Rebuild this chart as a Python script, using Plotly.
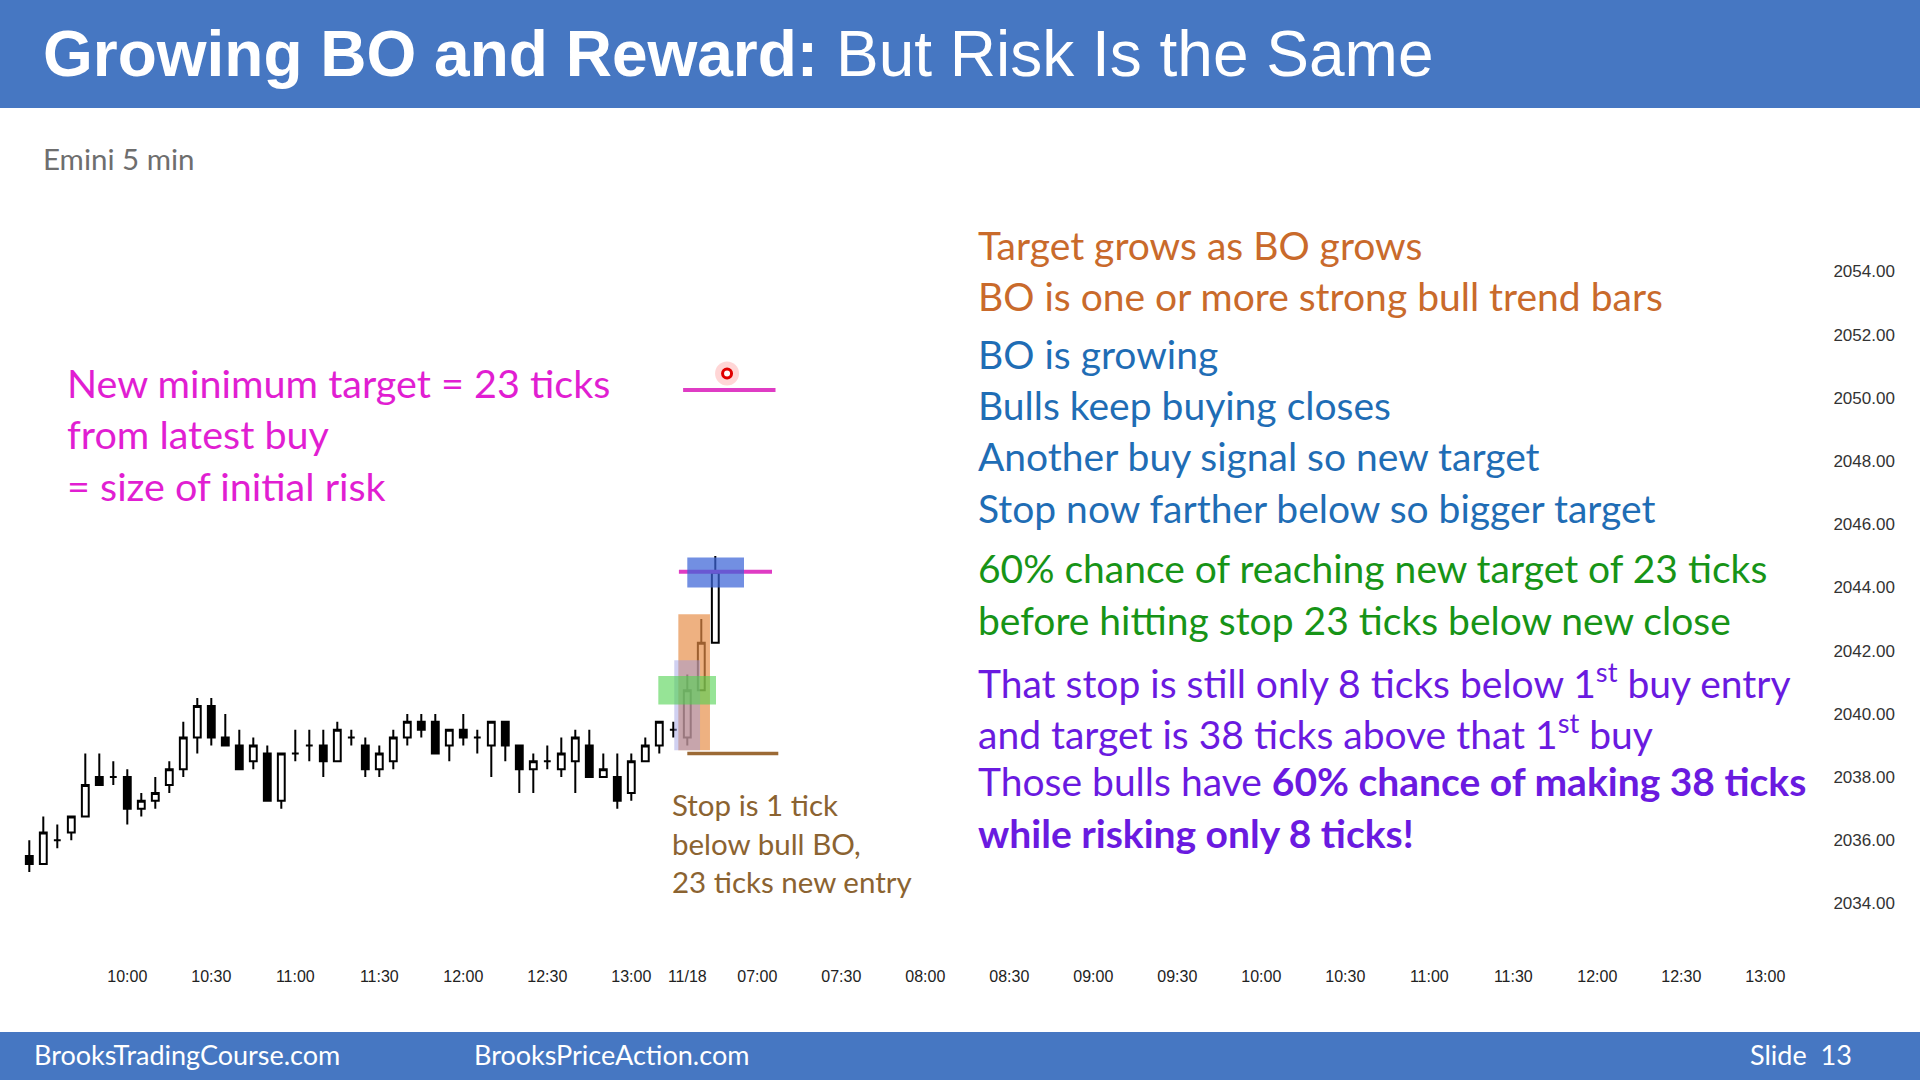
import plotly.graph_objects as go

# ---------------- data ----------------
bar_index = list(range(-7, 43))
open_ = [2035.5, 2035.25, 2036, 2036.25, 2036.75, 2038, 2038, 2038, 2037, 2037.25,
         2037.75, 2038.25, 2039.25, 2040.25, 2039.25, 2039, 2038.5, 2038.75, 2037.25, 2038.75,
         2039, 2039, 2038.5, 2039.25, 2039, 2038.25, 2038.5, 2039.25, 2039.75, 2039.75,
         2039, 2039.5, 2039.25, 2039, 2039.75, 2039, 2038.25, 2038.5, 2038.25, 2038.5,
         2039, 2038, 2038, 2037.5, 2038.5, 2039, 2039.5, 2039.25, 2040.75, 2042.25]
high_ = [2036, 2036.75, 2036.5, 2036.75, 2038.75, 2038.75, 2038.5, 2038.25, 2037.5, 2038,
         2038.5, 2039.75, 2040.5, 2040.5, 2040, 2039.5, 2039.25, 2039, 2038.75, 2039.5,
         2039.5, 2039.5, 2039.75, 2039.5, 2039.25, 2039, 2039.5, 2040, 2040, 2040,
         2039.5, 2040, 2039.5, 2039.75, 2039.75, 2039, 2038.75, 2039, 2039.25, 2039.5,
         2039.5, 2038.75, 2038.75, 2038.75, 2039.25, 2039.75, 2039.75, 2041.25, 2043, 2045]
low_ = [2035, 2035.25, 2035.75, 2036, 2036.75, 2037.75, 2037.75, 2036.5, 2036.75, 2037,
        2037.5, 2038, 2038.75, 2039, 2039, 2038.25, 2038.25, 2037.25, 2037, 2038.5,
        2038.5, 2038, 2038.5, 2039, 2038, 2038, 2038.25, 2039, 2039.25, 2038.75,
        2038.5, 2039, 2038.75, 2038, 2038.5, 2037.5, 2037.5, 2038.25, 2038, 2037.5,
        2038, 2038, 2037, 2037.25, 2038.5, 2038.75, 2039.25, 2039, 2040.75, 2042.25]
close_ = [2035.25, 2036.25, 2036, 2036.75, 2037.75, 2037.75, 2038, 2037, 2037.25, 2037.5,
          2038.25, 2039.25, 2040.25, 2039.25, 2039, 2038.25, 2039, 2037.25, 2038.75, 2038.75,
          2039, 2038.5, 2039.5, 2039.25, 2038.25, 2038.75, 2039.25, 2039.75, 2039.5, 2038.75,
          2039.5, 2039.25, 2039.25, 2039.75, 2039, 2038.25, 2038.5, 2038.5, 2038.75, 2039.25,
          2038, 2038.25, 2037.25, 2038.5, 2039, 2039.75, 2039.5, 2040.75, 2042.25, 2044.5]

x_tick_pos = [0, 6, 12, 18, 24, 30, 36, 40, 45, 51, 57, 63, 69, 75, 81, 87, 93, 99, 105, 111, 117]
x_tick_text = ["10:00", "10:30", "11:00", "11:30", "12:00", "12:30", "13:00", "11/18", "07:00",
               "07:30", "08:00", "08:30", "09:00", "09:30", "10:00", "10:30", "11:00", "11:30",
               "12:00", "12:30", "13:00"]
y_tick_vals = [2034, 2036, 2038, 2040, 2042, 2044, 2046, 2048, 2050, 2052, 2054]

# key levels (price) and their bar spans
new_target = 2050.25
prior_target = 2044.5
stop_level = 2038.75
new_target_span = [39.7, 46.3]
prior_target_span = [39.4, 46.05]
stop_span = [40.0, 46.5]

# highlight zones: [x0, x1, y0, y1]
zone_orange = [39.36, 41.62, 2038.85, 2043.15]
zone_lavender = [39.07, 40.91, 2038.85, 2041.7]
zone_green = [37.93, 42.05, 2040.3, 2041.2]
zone_blue = [40.0, 44.05, 2044.0, 2044.95]

cursor_pos = [42.84, 2050.77]

right_lines = [
    ("Target grows as BO grows", "#C96A2B"),
    ("BO is one or more strong bull trend bars", "#C96A2B"),
    ("BO is growing", "#1F6DB5"),
    ("Bulls keep buying closes", "#1F6DB5"),
    ("Another buy signal so new target", "#1F6DB5"),
    ("Stop now farther below so bigger target", "#1F6DB5"),
    ("60% chance of reaching new target of 23 ticks", "#179417"),
    ("before hitting stop 23 ticks below new close", "#179417"),
    ("That stop is still only 8 ticks below 1<sup>st</sup> buy entry", "#6A1AE0"),
    ("and target is 38 ticks above that 1<sup>st</sup> buy", "#6A1AE0"),
    ("Those bulls have <b>60% chance of making 38 ticks</b>", "#6A1AE0"),
    ("<b>while risking only 8 ticks!</b>", "#6A1AE0"),
]
right_y = [245, 296, 354, 405, 455.5, 508, 568, 620, 680, 731, 781, 833]

left_lines = ["New minimum target = 23 ticks", "from latest buy", "= size of initial risk"]
left_y = [382, 433.5, 485]

stop_lines = ["Stop is 1 tick", "below bull BO,", "23 ticks new entry"]
stop_y = [804.5, 843.7, 881.6]

# ---------------- layout geometry ----------------
W, H = 1920, 1080
PL, PR, PT, PB = 20, 1825, 160, 960
BAR_PX = 14.0
X10 = 127.3          # pixel of bar index 0
PX_PER_PT = 31.6
Y2040 = 713.9        # pixel of price 2040

xa = -(X10 - PL) / BAR_PX
xb = xa + (PR - PL) / BAR_PX
ylo = 2040 - (PB - Y2040) / PX_PER_PT
yhi = 2040 + (Y2040 - PT) / PX_PER_PT


def px(x):
    return (x - PL) / (PR - PL)


def py(y):
    return (PB - y) / (PB - PT)


BLUE = "#4677C2"
CAL = "Lato, Carlito, Calibri, sans-serif"

fig = go.Figure()
fig.add_trace(go.Candlestick(
    x=bar_index, open=open_, high=high_, low=low_, close=close_,
    increasing=dict(line=dict(color="black", width=2), fillcolor="white"),
    decreasing=dict(line=dict(color="black", width=2), fillcolor="black"),
    whiskerwidth=0, hoverinfo="skip", showlegend=False,
))
# cursor highlight
fig.add_trace(go.Scatter(x=[cursor_pos[0]], y=[cursor_pos[1]], mode="markers",
                         marker=dict(size=24, color="rgba(255,70,70,0.22)"),
                         hoverinfo="skip", showlegend=False))
fig.add_trace(go.Scatter(x=[cursor_pos[0]], y=[cursor_pos[1]], mode="markers",
                         marker=dict(size=9, color="white", line=dict(color="#E00000", width=3)),
                         hoverinfo="skip", showlegend=False))

shapes = []
# header / footer bars
shapes.append(dict(type="rect", xref="paper", yref="paper", x0=px(0), x1=px(W), y0=py(108), y1=py(0),
                   fillcolor=BLUE, line=dict(width=0), layer="above"))
shapes.append(dict(type="rect", xref="paper", yref="paper", x0=px(0), x1=px(W), y0=py(H), y1=py(1032),
                   fillcolor=BLUE, line=dict(width=0), layer="above"))


def zone(z, color):
    return dict(type="rect", xref="x", yref="y", x0=z[0], x1=z[1], y0=z[2], y1=z[3],
                fillcolor=color, line=dict(width=0), layer="above")


shapes.append(zone(zone_orange, "rgba(230,140,70,0.68)"))
shapes.append(zone(zone_lavender, "rgba(150,150,225,0.45)"))
shapes.append(zone(zone_green, "rgba(80,210,80,0.6)"))
shapes.append(dict(type="line", xref="x", yref="y", x0=prior_target_span[0], x1=prior_target_span[1],
                   y0=prior_target, y1=prior_target, line=dict(color="#DF3CC4", width=4), layer="above"))
shapes.append(zone(zone_blue, "rgba(60,100,215,0.72)"))
shapes.append(dict(type="line", xref="x", yref="y", x0=new_target_span[0], x1=new_target_span[1],
                   y0=new_target, y1=new_target, line=dict(color="#DF3CC4", width=4), layer="above"))
shapes.append(dict(type="line", xref="x", yref="y", x0=stop_span[0], x1=stop_span[1],
                   y0=stop_level, y1=stop_level, line=dict(color="#9C6A35", width=3.5), layer="above"))

ann = []


def text(x, y, s, size, color, family=CAL, anchor="left"):
    ann.append(dict(xref="paper", yref="paper", x=px(x), y=py(y), text=s, showarrow=False,
                    xanchor=anchor, yanchor="middle", font=dict(family=family, size=size, color=color)))


text(41, 54, "<b>Growing BO and Reward:</b> But Risk Is the Same", 64, "white",
     family="Liberation Sans, Arial, sans-serif")
text(41, 158, "Emini 5 min", 29.5, "#6E6E6E")
for s, yy in zip(left_lines, left_y):
    text(65, yy, s, 39.5, "#E11ED2")
for (s, c), yy in zip(right_lines, right_y):
    text(976, yy, s, 39, c)
for s, yy in zip(stop_lines, stop_y):
    text(670, yy, s, 29.5, "#8B6331")
text(32, 1054, "BrooksTradingCourse.com", 27, "white")
text(472, 1054, "BrooksPriceAction.com", 27, "white")
text(1748, 1054, "Slide\u00a0\u00a013", 27, "white")

fig.update_layout(
    width=W, height=H, autosize=False,
    margin=dict(l=PL, r=W - PR, t=PT, b=H - PB, pad=0),
    paper_bgcolor="white", plot_bgcolor="white",
    shapes=shapes, annotations=ann, showlegend=False,
    xaxis=dict(range=[xa, xb], showgrid=False, zeroline=False, showline=False,
               tickmode="array", tickvals=x_tick_pos, ticktext=x_tick_text, ticks="",
               ticklabelstandoff=5,
               tickfont=dict(family="Liberation Sans, Arial, sans-serif", size=16, color="#222"),
               rangeslider=dict(visible=False), fixedrange=True),
    yaxis=dict(range=[ylo, yhi], side="right", showgrid=False, zeroline=False, showline=False,
               tickmode="array", tickvals=y_tick_vals, tickformat=".2f",
               ticks="outside", ticklen=4, tickcolor="rgba(0,0,0,0)",
               tickfont=dict(family="Liberation Sans, Arial, sans-serif", size=17, color="#333"),
               fixedrange=True),
)

fig.write_html("out.html", config={"displayModeBar": False},
               post_script="document.body.style.margin='0';document.body.style.padding='0';"
                           "document.body.style.overflow='hidden';")
